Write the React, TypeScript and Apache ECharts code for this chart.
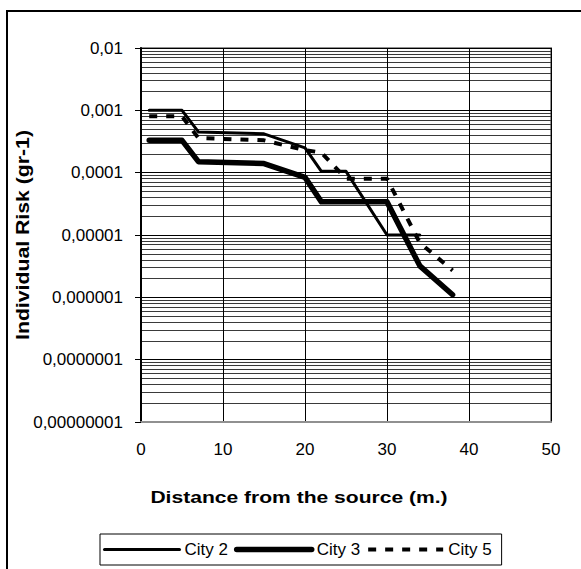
import React, { useEffect, useRef } from "react";
import * as echarts from "echarts";

const city2Distance = [1, 5, 7, 15, 20, 22, 25, 30, 34];
const city2Risk = [1e-3, 1e-3, 4.5e-4, 4.2e-4, 2.5e-4, 1.05e-4, 1.05e-4, 1e-5, 1e-5];

const city3Distance = [1, 5, 7, 15, 20, 22, 30, 34, 38];
const city3Risk = [3.3e-4, 3.3e-4, 1.5e-4, 1.4e-4, 8.4e-5, 3.4e-5, 3.4e-5, 3.2e-6, 1.1e-6];

const city5Distance = [1, 5, 7, 15, 20, 22, 25, 30, 34, 38];
const city5Risk = [8e-4, 8e-4, 3.6e-4, 3.3e-4, 2.3e-4, 2.1e-4, 8e-5, 8e-5, 7.5e-6, 2.7e-6];

const seriesNames = ["City 2", "City 3", "City 5"];

const FONT = "'Liberation Sans', Arial, sans-serif";

function pairs(xs: number[], ys: number[]) {
  return xs.map((x, i) => [x, ys[i]]);
}

export default function App() {
  const ref = useRef<HTMLDivElement>(null);
  useEffect(() => {
    document.body.style.margin = "0";
    const chart = echarts.init(ref.current!, null, { renderer: "svg" });
    chart.setOption({
      animation: false,
      backgroundColor: "#fff",
      grid: {
        left: 141,
        right: 30,
        top: 48,
        bottom: 147,
        show: true,
        borderColor: "#909090",
        borderWidth: 2,
      },
      legend: {
        data: seriesNames,
        left: 100,
        top: 534,
        width: 403,
        itemWidth: 75,
        itemHeight: 6,
        itemGap: 6,
        padding: [7, 10, 7, 3],
        borderColor: "#000",
        borderWidth: 1,
        textStyle: { fontFamily: FONT, fontSize: 17, color: "#000" },
        itemStyle: { opacity: 0, borderWidth: 0 },
        lineStyle: { width: "inherit", type: "inherit", cap: "inherit", opacity: 1 },
      },
      xAxis: {
        type: "value",
        min: 0,
        max: 50,
        interval: 10,
        axisLine: { show: true, lineStyle: { color: "#909090", width: 2 } },
        axisTick: { show: false },
        axisLabel: { color: "#000", fontFamily: FONT, fontSize: 17, margin: 19 },
        splitLine: { show: true, lineStyle: { color: "#000", width: 1 } },
      },
      yAxis: {
        type: "log",
        logBase: 10,
        min: 1e-8,
        max: 1e-2,
        axisLine: { show: true, lineStyle: { color: "#000", width: 2 } },
        axisTick: { show: true, inside: false, length: 6, lineStyle: { color: "#000" } },
        axisLabel: {
          color: "#000",
          fontFamily: FONT,
          fontSize: 17,
          margin: 18,
          formatter: (v: number) => {
            const n = Math.round(-Math.log10(v));
            return v.toFixed(n).replace(".", ",");
          },
        },
        splitLine: { show: true, lineStyle: { color: "#000", width: 1 } },
        minorTick: { show: false, splitNumber: 9 },
        minorSplitLine: { show: true, lineStyle: { color: "#3a3a3a", width: 1 } },
      },
      series: [
        {
          name: "City 2",
          type: "line",
          data: pairs(city2Distance, city2Risk),
          symbol: "none",
          z: 3,
          lineStyle: { color: "#000", width: 3, type: "solid", cap: "round", join: "round" },
          itemStyle: { color: "#000" },
        },
        {
          name: "City 3",
          type: "line",
          data: pairs(city3Distance, city3Risk),
          symbol: "none",
          z: 3,
          lineStyle: { color: "#000", width: 5.5, type: "solid", cap: "round", join: "round" },
          itemStyle: { color: "#000" },
        },
        {
          name: "City 5",
          type: "line",
          data: pairs(city5Distance, city5Risk),
          symbol: "none",
          z: 3,
          lineStyle: { color: "#000", width: 4, type: [8, 9], cap: "butt" },
          itemStyle: { color: "#000" },
        },
      ],
      graphic: [
        {
          type: "rect",
          shape: { x: 7, y: 11, width: 600, height: 600 },
          style: { fill: "none", stroke: "#000", lineWidth: 2 },
          z: 10,
          silent: true,
        },
        {
          type: "text",
          x: 299,
          y: 497,
          scaleX: 1.24,
          style: {
            text: "Distance from the source (m.)",
            font: `bold 17px ${FONT}`,
            fill: "#000",
            textAlign: "center",
            textVerticalAlign: "middle",
          },
        },
        {
          type: "text",
          x: 23,
          y: 235,
          rotation: Math.PI / 2,
          scaleX: 1.18,
          style: {
            text: "Individual Risk (gr-1)",
            font: `bold 18px ${FONT}`,
            fill: "#000",
            textAlign: "center",
            textVerticalAlign: "middle",
          },
        },
      ],
    });
    return () => chart.dispose();
  }, []);
  return <div ref={ref} style={{ width: 581, height: 569 }} />;
}
